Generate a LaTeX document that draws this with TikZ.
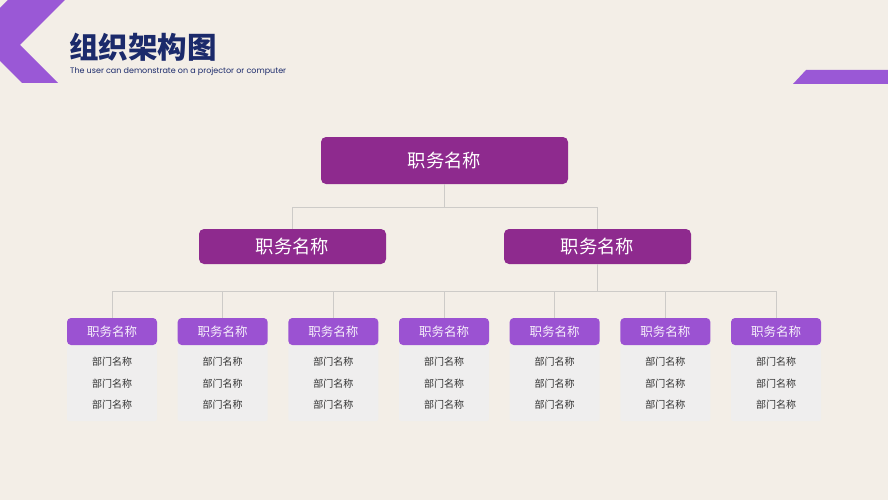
\documentclass[tikz,border=0pt]{standalone}
\usepackage{fontspec}
\newfontfamily\cjk{Noto Sans CJK SC}
\newfontfamily\subfont{Poppins}
\usetikzlibrary{calc,positioning}
\definecolor{paper}{HTML}{F3EEE7}
\definecolor{bossPurple}{HTML}{8E2A8E}
\definecolor{headPurple}{HTML}{9B52D2}
\definecolor{markPurple}{HTML}{9A58D6}
\definecolor{titleNavy}{HTML}{1B2A6B}
\definecolor{bodyGray}{HTML}{EFEEEE}
\definecolor{lineGray}{HTML}{CDCBC8}

\begin{document}
\begin{tikzpicture}[x=1pt, y=-1pt]
    \tikzset{
      boss/.style = {fill=bossPurple, rounded corners=5pt, text=white,
        minimum width=247pt, minimum height=47pt,
        font=\cjk\fontsize{18.3}{18.3}\selectfont},
      manager/.style = {boss, minimum width=187pt, minimum height=35pt},
      depthead/.style = {fill=headPurple, rounded corners=4pt, text=white!92!headPurple,
        minimum width=90pt, minimum height=27pt,
        font=\cjk\fontsize{12.5}{12.5}\selectfont},
      deptbody/.style = {fill=bodyGray, rounded corners=2pt,
        minimum width=90pt, minimum height=76pt},
      deptitems/.style = {align=center, text=black!80,
        font=\cjk\fontsize{10}{21.5}\selectfont},
      link/.style = {draw=lineGray, line width=0.9pt}}
    % background and frame
    \fill[paper] (0,0) rectangle (888,500);
    \useasboundingbox (0,0) rectangle (888,500);
    \fill[markPurple] (0,8) -- (8,0) -- (65,0) -- (20,45) -- (58,83) -- (22,83) -- (0,61) -- cycle;
    \fill[markPurple] (793,84) -- (806,70) -- (888,70) -- (888,84) -- cycle;
    \node[anchor=west, inner sep=0, text=titleNavy,
      font=\cjk\bfseries\fontsize{29.5}{29.5}\selectfont] (title) at (69,47) {组织架构图};
    \node[anchor=west, inner sep=0, text=titleNavy,
      font=\subfont\fontsize{8}{8}\selectfont] (subtitle) at (70,71) {The user can demonstrate on a projector or computer};
    % chart
    \node[boss] (top) at (444.5,160.5) {职务名称};
    \node[manager] (mgrA) at (292.5,246.5) {职务名称};
    \node[manager] (mgrB) at (597.5,246.5) {职务名称};
    \coordinate (hubA) at (444.5,207);
    \coordinate (hubB) at (597.5,291);
    \draw[link] (top) -- (hubA);
    \draw[link] (hubA) -| (mgrA);
    \draw[link] (hubA) -| (mgrB);
    \draw[link] (mgrB) -- (hubB);
    \foreach \i in {0,...,6}{
      \pgfmathsetmacro\cx{112+110.67*\i}
      \node[deptbody] (body\i) at (\cx,383) {};
      \node[depthead] (head\i) at (\cx,331.5) {职务名称};
      \node[deptitems] (items\i) at (\cx,383.5) {部门名称\\部门名称\\部门名称};
      \draw[link] (head\i |- hubB) -- (head\i);
    }
    \draw[link] (head0 |- hubB) -- (head6 |- hubB);
\end{tikzpicture}
\end{document}
